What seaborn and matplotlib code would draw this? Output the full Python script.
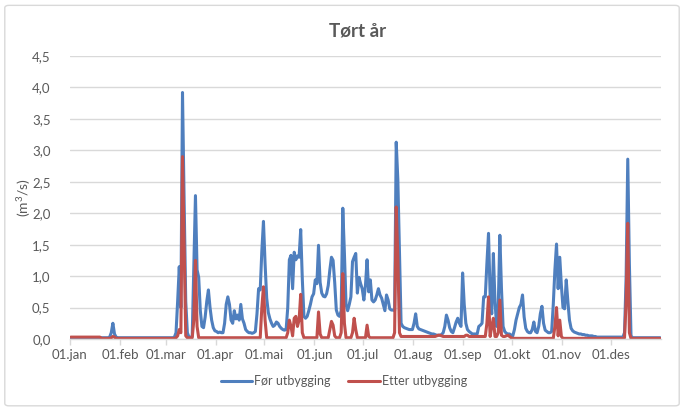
import pandas as pd
import matplotlib.pyplot as plt
import matplotlib.dates as mdates
from matplotlib.patches import FancyBboxPatch
import seaborn as sns

# daily flow (m3/s), 1 Jan - 31 Dec
for_utbygging = [
    0.02, 0.02, 0.02, 0.02, 0.02, 0.02, 0.02, 0.02, 0.02, 0.02,
    0.02, 0.02, 0.02, 0.02, 0.02, 0.02, 0.02, 0.02, 0.02, 0.02,
    0.02, 0.02, 0.02, 0.02, 0.03, 0.10, 0.25, 0.08, 0.03, 0.02,
    0.02, 0.02, 0.02, 0.02, 0.02, 0.02, 0.02, 0.02, 0.02, 0.02,
    0.02, 0.02, 0.02, 0.02, 0.02, 0.02, 0.02, 0.02, 0.02, 0.02,
    0.02, 0.02, 0.02, 0.02, 0.02, 0.02, 0.02, 0.02, 0.02, 0.02,
    0.02, 0.02, 0.02, 0.02, 0.03, 0.10, 0.60, 1.15, 0.50, 3.92,
    2.20, 0.60, 0.10, 0.03, 0.02, 0.05, 1.20, 2.28, 1.10, 0.98,
    0.45, 0.20, 0.18, 0.35, 0.60, 0.78, 0.50, 0.30, 0.18, 0.13,
    0.12, 0.10, 0.11, 0.10, 0.10, 0.25, 0.55, 0.67, 0.55, 0.30,
    0.25, 0.45, 0.32, 0.38, 0.30, 0.55, 0.32, 0.25, 0.15, 0.12,
    0.10, 0.10, 0.09, 0.10, 0.12, 0.40, 0.80, 0.78, 1.40, 1.87,
    1.20, 0.65, 0.42, 0.32, 0.25, 0.20, 0.22, 0.27, 0.25, 0.20,
    0.17, 0.15, 0.14, 0.15, 0.50, 1.26, 1.33, 0.80, 1.38, 1.26,
    1.32, 1.30, 1.74, 0.95, 0.36, 0.33, 0.36, 0.45, 0.55, 0.67,
    0.72, 0.94, 0.88, 1.49, 0.90, 0.73, 0.68, 0.67, 0.72, 0.85,
    1.10, 1.30, 1.25, 0.90, 0.46, 0.38, 0.36, 0.45, 2.08, 1.36,
    0.55, 0.45, 0.55, 0.67, 1.23, 1.30, 1.36, 0.73, 0.98, 0.88,
    0.80, 0.62, 0.85, 1.26, 0.75, 0.94, 0.62, 0.59, 0.62, 0.70,
    0.80, 0.70, 0.65, 0.55, 0.45, 0.70, 0.62, 0.48, 0.46, 0.46,
    0.45, 3.13, 2.53, 1.36, 0.25, 0.20, 0.18, 0.17, 0.16, 0.15,
    0.15, 0.15, 0.25, 0.40, 0.20, 0.16, 0.15, 0.14, 0.13, 0.12,
    0.11, 0.10, 0.09, 0.08, 0.08, 0.07, 0.06, 0.06, 0.06, 0.07,
    0.10, 0.20, 0.38, 0.30, 0.18, 0.12, 0.10, 0.18, 0.27, 0.33,
    0.25, 0.20, 1.05, 0.55, 0.25, 0.15, 0.12, 0.10, 0.08, 0.08,
    0.08, 0.08, 0.20, 0.22, 0.25, 0.67, 0.67, 1.20, 1.68, 0.70,
    0.40, 1.36, 0.60, 0.20, 0.50, 1.65, 0.80, 0.20, 0.12, 0.09,
    0.08, 0.08, 0.06, 0.05, 0.15, 0.30, 0.40, 0.50, 0.55, 0.70,
    0.35, 0.17, 0.12, 0.10, 0.10, 0.15, 0.27, 0.12, 0.10, 0.20,
    0.40, 0.52, 0.25, 0.14, 0.12, 0.10, 0.10, 0.12, 0.55, 1.10,
    1.51, 0.80, 1.30, 0.85, 0.50, 0.48, 0.94, 0.60, 0.30, 0.17,
    0.13, 0.11, 0.10, 0.09, 0.08, 0.08, 0.07, 0.07, 0.06, 0.06,
    0.05, 0.05, 0.05, 0.04, 0.04, 0.03, 0.03, 0.03, 0.03, 0.03,
    0.03, 0.03, 0.03, 0.03, 0.03, 0.03, 0.03, 0.03, 0.03, 0.03,
    0.03, 0.03, 0.10, 1.00, 2.86, 1.20, 0.05, 0.02, 0.02, 0.02,
    0.02, 0.02, 0.02, 0.02, 0.02, 0.02, 0.02, 0.02, 0.02, 0.02,
    0.02, 0.02, 0.02, 0.02, 0.02,
]

etter_utbygging = [
    0.03, 0.03, 0.03, 0.03, 0.03, 0.03, 0.03, 0.03, 0.03, 0.03,
    0.03, 0.03, 0.03, 0.03, 0.03, 0.03, 0.03, 0.03, 0.03, 0.01,
    0.01, 0.01, 0.01, 0.01, 0.01, 0.02, 0.04, 0.03, 0.01, 0.01,
    0.01, 0.01, 0.01, 0.01, 0.01, 0.01, 0.01, 0.01, 0.01, 0.01,
    0.01, 0.01, 0.01, 0.01, 0.01, 0.01, 0.01, 0.01, 0.01, 0.01,
    0.01, 0.01, 0.01, 0.01, 0.01, 0.01, 0.01, 0.01, 0.01, 0.01,
    0.01, 0.01, 0.01, 0.01, 0.01, 0.02, 0.05, 0.15, 0.10, 2.90,
    1.50, 0.05, 0.02, 0.02, 0.02, 0.02, 0.30, 1.25, 0.20, 0.02,
    0.02, 0.02, 0.02, 0.02, 0.02, 0.02, 0.02, 0.02, 0.02, 0.02,
    0.02, 0.02, 0.02, 0.02, 0.02, 0.02, 0.02, 0.02, 0.02, 0.02,
    0.02, 0.02, 0.02, 0.02, 0.02, 0.02, 0.02, 0.02, 0.02, 0.02,
    0.02, 0.02, 0.02, 0.02, 0.02, 0.02, 0.02, 0.02, 0.50, 0.83,
    0.30, 0.02, 0.02, 0.02, 0.02, 0.02, 0.02, 0.02, 0.02, 0.02,
    0.02, 0.02, 0.02, 0.02, 0.10, 0.30, 0.20, 0.05, 0.33, 0.36,
    0.20, 0.30, 0.71, 0.10, 0.02, 0.02, 0.02, 0.02, 0.02, 0.02,
    0.02, 0.02, 0.02, 0.43, 0.08, 0.02, 0.02, 0.02, 0.02, 0.02,
    0.15, 0.28, 0.22, 0.05, 0.02, 0.02, 0.02, 0.10, 1.04, 0.25,
    0.02, 0.02, 0.02, 0.02, 0.10, 0.33, 0.15, 0.02, 0.02, 0.02,
    0.02, 0.02, 0.02, 0.22, 0.04, 0.02, 0.02, 0.02, 0.02, 0.02,
    0.02, 0.02, 0.02, 0.02, 0.02, 0.02, 0.02, 0.02, 0.02, 0.02,
    0.10, 2.10, 1.30, 0.10, 0.04, 0.04, 0.04, 0.04, 0.04, 0.04,
    0.04, 0.04, 0.04, 0.04, 0.04, 0.04, 0.04, 0.04, 0.04, 0.04,
    0.04, 0.04, 0.04, 0.04, 0.04, 0.04, 0.05, 0.06, 0.06, 0.05,
    0.04, 0.04, 0.04, 0.04, 0.04, 0.04, 0.04, 0.04, 0.04, 0.04,
    0.04, 0.04, 0.04, 0.04, 0.06, 0.06, 0.04, 0.04, 0.04, 0.04,
    0.04, 0.04, 0.04, 0.04, 0.04, 0.04, 0.04, 0.25, 0.67, 0.04,
    0.20, 0.33, 0.04, 0.04, 0.10, 0.62, 0.06, 0.04, 0.04, 0.05,
    0.06, 0.04, 0.02, 0.01, 0.01, 0.01, 0.01, 0.01, 0.01, 0.01,
    0.01, 0.01, 0.01, 0.01, 0.01, 0.01, 0.01, 0.01, 0.01, 0.01,
    0.01, 0.01, 0.01, 0.01, 0.01, 0.01, 0.01, 0.01, 0.01, 0.20,
    0.50, 0.05, 0.30, 0.04, 0.01, 0.01, 0.01, 0.01, 0.01, 0.01,
    0.01, 0.01, 0.01, 0.01, 0.01, 0.01, 0.01, 0.01, 0.01, 0.01,
    0.01, 0.01, 0.01, 0.01, 0.01, 0.01, 0.01, 0.01, 0.01, 0.01,
    0.01, 0.01, 0.01, 0.01, 0.01, 0.01, 0.01, 0.01, 0.01, 0.01,
    0.01, 0.01, 0.02, 0.60, 1.84, 0.10, 0.01, 0.01, 0.01, 0.01,
    0.01, 0.01, 0.01, 0.01, 0.01, 0.01, 0.01, 0.01, 0.01, 0.01,
    0.01, 0.01, 0.01, 0.01, 0.01,
]

month_labels = ['01.jan', '01.feb', '01.mar', '01.apr', '01.mai', '01.jun',
                '01.jul', '01.aug', '01.sep', '01.okt', '01.nov', '01.des']
y_ticks = [0.0, 0.5, 1.0, 1.5, 2.0, 2.5, 3.0, 3.5, 4.0, 4.5]

# Excel draws each day in the middle of its slot on a date axis
dates = pd.date_range('2019-01-01 12:00', periods=len(for_utbygging), freq='D')
df = pd.concat([
    pd.DataFrame({'dato': dates, 'q': for_utbygging, 'serie': 'Før utbygging'}),
    pd.DataFrame({'dato': dates, 'q': etter_utbygging, 'serie': 'Etter utbygging'}),
])

sns.set_theme(style='white')
plt.rcParams['font.family'] = ['Lato', 'DejaVu Sans']
plt.rcParams['mathtext.default'] = 'regular'
grey = '#595959'

fig = plt.figure(figsize=(6.84, 4.12), dpi=100)
fig.patches.append(FancyBboxPatch((0.007, 0.015), 0.986, 0.972,
                                  boxstyle='round,pad=0,rounding_size=0.006',
                                  transform=fig.transFigure, fill=False,
                                  edgecolor='#d9d9d9', linewidth=1.0))
ax = fig.add_axes([0.1023, 0.1772, 0.8640, 0.6868])

sns.lineplot(data=df, x='dato', y='q', hue='serie',
             palette={'Før utbygging': '#4f7fbe', 'Etter utbygging': '#c0504d'},
             linewidth=2.2, ax=ax)

ax.set_xlim(pd.Timestamp('2019-01-01'), pd.Timestamp('2020-01-01'))
ax.set_ylim(0, 4.5)
ax.set_xticks(pd.date_range('2019-01-01', periods=12, freq='MS'))
ax.set_xticklabels(month_labels)
ax.set_yticks(y_ticks)
ax.set_yticklabels([f'{v:.1f}'.replace('.', ',') for v in y_ticks])
ax.grid(axis='y', color='#d9d9d9', linewidth=1.0)
ax.set_axisbelow(True)
for s in ['top', 'right', 'left']:
    ax.spines[s].set_visible(False)
ax.spines['bottom'].set_color('#d9d9d9')
ax.spines['bottom'].set_linewidth(1.0)
ax.tick_params(axis='x', colors='#d9d9d9', labelcolor=grey, labelsize=9.5,
               length=4, width=1, direction='out', pad=3, bottom=True)
ax.tick_params(axis='y', length=0, labelcolor=grey, labelsize=9.5, pad=14)
ax.set_xlabel('')
ax.set_ylabel('(m$^3$/s)', color=grey, fontsize=10)
ax.yaxis.set_label_coords(-0.063, 0.5)

fig.text(0.523, 0.925, 'Tørt år', ha='center', va='center',
         fontsize=13.5, fontweight='bold', color=grey)

sns.move_legend(ax, 'center', bbox_to_anchor=(0.503, 0.075),
                bbox_transform=fig.transFigure, ncol=2, frameon=False,
                title=None, fontsize=9, handlelength=2.5,
                handletextpad=0.2, columnspacing=1.4, labelcolor=grey)

fig.savefig('out.png', dpi=100)
